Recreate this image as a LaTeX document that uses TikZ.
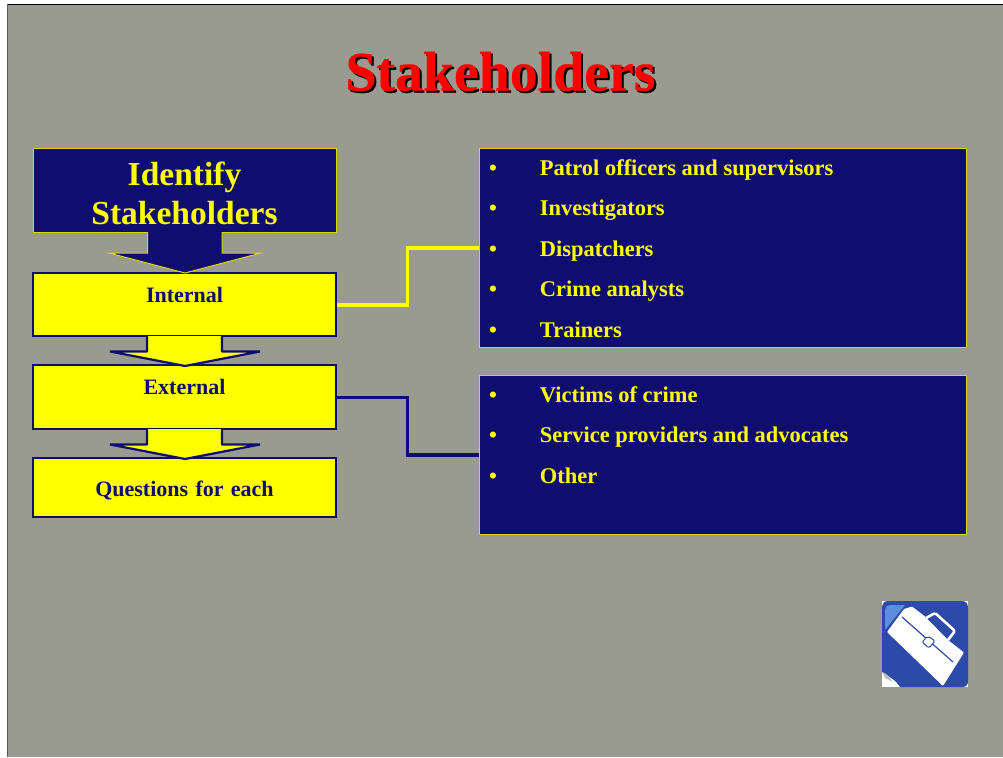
\documentclass[tikz,border=0pt]{standalone}
\usepackage{fontspec}
\setmainfont{Liberation Serif}
\newfontfamily\titlefont[BoldFeatures={FakeBold=0.5}]{Liberation Serif}
\definecolor{slide}{HTML}{999B91}
\definecolor{navy}{HTML}{100D70}
\definecolor{yel}{HTML}{FFFF00}
\definecolor{iconblue}{HTML}{2D4AA8}
\definecolor{iconlight}{HTML}{5C8FD8}
\newcommand\itm[1]{\hspace*{10pt}\makebox[51pt][l]{•}#1\par}
\newcommand\lst[1]{\parbox[t]{487pt}{\baselineskip=40.55pt\lineskiplimit=-100pt\parindent=0pt #1}}
\tikzset{
  x=1pt,y=-1pt,
  anynode/.style={anchor=north west,inner sep=0pt,outer sep=0pt,align=center},
  bluebox/.style={anynode,fill=navy,draw=yel!85!black,line width=1pt,text=yel,font=\bfseries\fontsize{33.5}{40}\selectfont},
  yelbox/.style={anynode,fill=yel,draw=navy,line width=2.6pt,text=navy,font=\bfseries\fontsize{22}{26}\selectfont,text width=303pt},
  listbox/.style={anchor=north west,inner sep=0pt,outer sep=0pt,fill=navy,draw=yel!85!black,line width=1pt,text=yel,font=\bfseries\fontsize{22.45}{30}\selectfont},
  darrow/.style={fill=navy,draw=yel!85!black,line width=1pt,miter limit=20},
  yarrow/.style={fill=yel,draw=navy,line width=2.2pt,line join=bevel},
  titletext/.style={inner sep=0pt,font=\titlefont\bfseries\fontsize{55.8}{60}\selectfont},
}
\begin{document}
\begin{tikzpicture}
\useasboundingbox (0,0) rectangle (1003,757);
\fill[white] (0,0) rectangle (1003,757);
\fill[slide] (7.5,4.5) rectangle (1003,757);
\draw[black,line width=1pt] (7.5,4.5) -- (1003,4.5);
\draw[black!65,line width=1pt] (7.5,4.5) -- (7.5,757);

% title
\node[titletext,text=black] (titleshadow) at (502.5,73.5) {Stakeholders};
\node[titletext,text=red] (title) at (500.5,71.5) {Stakeholders};

% left column
\node[bluebox,text width=303pt,text height=37pt,text depth=47pt] (identify) at (33,148)
  {Identify\\[-0.5pt]Stakeholders};
\node[yelbox,text height=29pt,text depth=34pt] (internal) at (33,273) {Internal};
\node[yelbox,text height=29pt,text depth=35pt] (external) at (33,365) {External};
\node[yelbox,text height=38pt,text depth=21pt] (questions) at (33,458) {Questions for each};

% block arrows between boxes
\path[darrow] (147.5,232) -- (147.5,253) -- (109,253) -- (185,273) -- (261,253) -- (222,253) -- (222,232);
\path[yarrow] (147,336) -- (147,351.5) -- (110,351.5) -- (185,366) -- (260,351.5) -- (222,351.5) -- (222,336);
\path[yarrow] (147,429) -- (147,444.5) -- (110,444.5) -- (185,459) -- (260,444.5) -- (222,444.5) -- (222,429);

% right lists
\node[listbox,text height=27pt,text depth=172pt] (list1) at (479,148) {\lst{%
  \itm{Patrol officers and supervisors}
  \itm{Investigators}
  \itm{Dispatchers}
  \itm{Crime analysts}
  \itm{Trainers}}};
\node[listbox,text height=27pt,text depth=132pt] (list2) at (479,375) {\lst{%
  \itm{Victims of crime}
  \itm{Service providers and advocates}
  \itm{Other}}};

% connectors
\coordinate (in1) at (479,248);
\coordinate (in2) at (479,455);
\coordinate (mid1) at (407.5,305);
\coordinate (mid2) at (407.5,397.5);
\draw[yel,line width=3.6pt,line join=miter] (internal.east |- mid1) ++(1.3,0) -- (mid1) |- (in1);
\draw[navy,line width=3.6pt,line join=miter] (external.east |- mid2) -- (mid2) |- (in2);

% toolbox icon
\begin{scope}
  \fill[white] (882,601) rectangle (968,687);
  \fill[iconblue] (888,601) -- (962,601) .. controls (966,601) and (968,604) .. (968,608) -- (968,681)
     .. controls (968,685) and (966,687) .. (962,687) -- (900,687) .. controls (896,680) and (888,676) .. (882,672) -- (882,608)
     .. controls (882,604) and (884,601) .. (888,601) -- cycle;
  \fill[iconlight] (885,630) -- (885,610) .. controls (885,607) and (887,605) .. (890,605) -- (905,605) -- cycle;
  % folded corner
  \fill[black!25] (882,672) .. controls (888,674) and (890,678) .. (893,682) -- (885,678) -- cycle;
  % case
  \fill[white,rounded corners=1pt] (887,632) -- (904,609) -- (912,606.5) -- (925,616.5) -- (948,640) -- (964,652.5) -- (943,686) -- cycle;
  % handle
  \draw[white,line width=2.6pt,line join=round,rounded corners=1.5pt] (926,618) -- (935,613) -- (955,631) -- (948,640);
  % dividing line and clasp
  \draw[iconblue,line width=1.2pt] (902,617) -- (953,662);
  \fill[white,draw=iconblue,line width=1pt,rounded corners=2pt] (922,642) -- (928,636) -- (935,641) -- (929,648) -- cycle;
\end{scope}
\end{tikzpicture}
\end{document}
